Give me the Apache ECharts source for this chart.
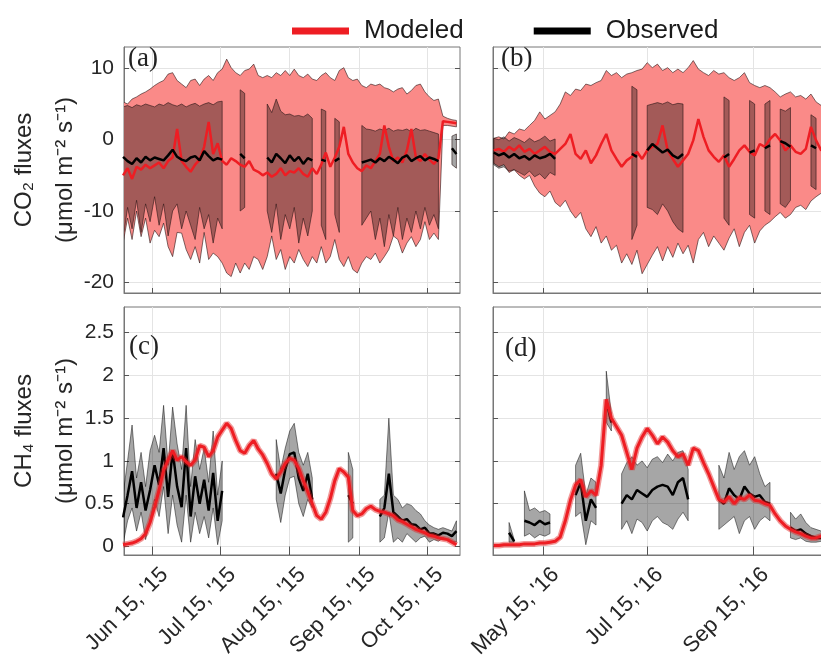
<!DOCTYPE html>
<html>
<head>
<meta charset="UTF-8">
<title>CO2 and CH4 fluxes</title>
<script src="https://cdn.jsdelivr.net/npm/echarts@6.0.0/dist/echarts.min.js"></script>
<style>
    html, body { margin: 0; padding: 0; background: #fff; }
    #main { width: 821px; height: 655px; }
</style>
</head>
<body>
<div id="main"></div>
<script>
// sampling of the series: 2015 every 2 days from Jun 2, 2016 every 3 days from Apr 16
var DAY = 86400000;
var start2015 = Date.UTC(2015, 5, 2), step2015 = 2, n2015 = 75;
var start2016 = Date.UTC(2016, 3, 16), step2016 = 3, n2016 = 66;

var ticks2015 = [Date.UTC(2015, 5, 15), Date.UTC(2015, 6, 15), Date.UTC(2015, 7, 15), Date.UTC(2015, 8, 15), Date.UTC(2015, 9, 15)];
var ticks2016 = [Date.UTC(2016, 4, 15), Date.UTC(2016, 6, 15), Date.UTC(2016, 8, 15)];
var co2Ticks = [-20, -10, 0, 10];
var ch4Ticks = [0, 0.5, 1, 1.5, 2, 2.5];

/* (a) CO2 2015 */
var a_modMax = [5.3,5.0,5.7,6.0,6.4,6.7,7.1,7.6,8.0,8.3,
    9.2,9.4,8.3,7.8,7.3,8.3,8.5,7.6,8.5,9.0,
    8.3,9.4,9.9,11.3,10.1,9.4,9.0,9.7,9.9,10.6,
    9.0,8.7,9.0,8.7,9.4,9.0,9.7,9.0,9.9,9.0,
    8.7,9.2,8.5,8.3,9.0,9.4,8.7,8.3,9.7,10.1,
    8.7,8.3,8.5,7.6,7.3,7.8,7.6,7.8,7.3,7.1,
    6.7,7.1,7.3,6.4,6.9,7.6,7.8,6.7,6.0,5.5,
    5.7,3.3,3.0,2.8,2.7];
var a_modMin = [-14.5,-11.0,-14.0,-10.0,-13.6,-11.0,-14.5,-12.7,-13.6,-11.7,
    -15.0,-16.4,-13.0,-13.1,-15.4,-16.8,-15.0,-17.3,-13.0,-16.8,
    -15.9,-16.4,-17.3,-18.7,-19.2,-17.3,-18.7,-17.3,-18.2,-16.4,
    -16.8,-18.2,-16.4,-13.5,-16.8,-15.4,-18.2,-16.4,-17.3,-15.4,
    -16.8,-17.8,-16.4,-17.3,-15.0,-17.3,-16.4,-14.0,-16.8,-17.8,
    -16.4,-18.2,-18.7,-17.3,-16.4,-16.8,-15.9,-17.3,-16.4,-15.4,
    -13.5,-14.0,-15.9,-14.5,-13.6,-15.0,-14.0,-11.5,-14.0,-13.1,
    -14.0,2.0,2.0,1.9,1.8];
var a_modMean = [-5.0,-4.0,-5.5,-3.8,-4.2,-3.5,-4.0,-3.6,-3.2,-4.0,
    -3.0,-2.5,1.5,-3.0,-3.8,-4.5,-3.5,-2.8,-1.0,2.5,
    -2.0,-0.5,-3.0,-3.5,-2.6,-3.0,-3.5,-3.8,-3.0,-4.2,
    -4.5,-5.0,-4.6,-5.2,-4.8,-4.0,-5.0,-4.4,-4.6,-4.0,
    -4.8,-5.2,-4.0,-4.8,-3.5,-1.8,-3.8,-2.5,-1.0,1.8,
    -2.0,-3.2,-4.0,-4.4,-3.6,-4.0,-3.0,-2.0,2.0,-1.0,
    -3.0,-2.5,-3.2,-1.5,1.5,-2.5,-3.0,-2.0,-2.8,-3.4,
    -2.6,2.6,2.5,2.4,2.3];
var a_obsMax = [4.6,4.8,4.5,4.9,4.7,5.0,4.8,4.6,5.0,4.8,
    5.2,4.9,4.7,5.0,4.6,4.9,5.1,4.7,5.0,5.2,
    4.9,5.3,5.4,null,null,null,7.0,6.5,null,null,
    null,null,5.0,3.8,5.7,4.0,3.5,3.6,3.3,3.4,
    3.2,3.6,3.0,null,4.3,4.0,null,3.0,2.5,null,
    null,null,null,2.0,1.5,1.4,1.2,1.5,1.3,1.6,
    1.2,1.4,1.3,1.5,1.1,1.6,1.3,1.4,1.2,1.0,
    0.8,null,null,0.5,0.8];
var a_obsMin = [-14.0,-9.5,-12.5,-8.5,-13.0,-9.0,-11.5,-8.0,-12.0,-9.0,
    -13.5,-10.0,-9.0,-12.5,-10.0,-12.0,-14.0,-9.5,-12.5,-10.5,
    -14.5,-11.0,-12.5,null,null,null,-10.0,-9.5,null,null,
    null,null,-10.0,-13.0,-9.0,-14.0,-10.5,-12.5,-9.5,-14.5,
    -11.0,-13.5,-10.0,null,-12.0,-14.0,null,-10.5,-13.0,null,
    null,null,null,-12.0,-11.0,-10.0,-14.0,-11.0,-15.0,-10.5,
    -13.5,-9.5,-14.0,-11.0,-13.0,-10.0,-12.5,-9.5,-12.0,-10.5,
    -12.5,null,null,-3.5,-4.0];
var a_obsMean = [-2.4,-3.0,-3.4,-2.6,-3.2,-2.4,-2.9,-2.5,-2.7,-2.9,
    -2.2,-1.4,-2.4,-2.8,-3.0,-2.5,-2.3,-2.9,-1.6,-2.3,
    -2.9,-2.6,-2.8,null,null,null,-2.0,-2.6,null,null,
    null,null,-2.5,-3.2,-2.0,-2.6,-3.3,-2.2,-3.0,-2.4,
    -3.4,-2.6,-2.9,null,-2.8,-3.0,null,-3.0,-2.6,null,
    null,null,null,-3.2,-3.0,-2.8,-3.2,-2.6,-3.0,-2.4,
    -2.8,-3.3,-2.5,-2.2,-3.0,-2.6,-2.3,-2.9,-2.5,-2.7,
    -3.0,null,null,-1.2,-2.0];

/* (b) CO2 2016 */
var b_modMax = [0.2,0.4,0.1,1.1,0.8,1.5,1.3,2.0,2.7,3.9,
    2.9,3.4,3.9,5.0,6.7,6.2,7.1,6.9,7.8,7.6,
    8.0,8.3,9.7,9.0,9.4,8.7,9.2,9.4,9.7,9.9,
    10.8,10.1,10.6,9.7,10.1,9.4,9.9,9.4,10.1,11.1,
    9.9,9.4,9.0,9.7,9.2,9.4,8.7,8.3,8.7,9.4,
    8.0,7.6,7.3,7.6,7.3,6.7,6.0,6.4,6.7,6.0,
    6.2,5.7,6.4,5.3,4.8,4.6];
var b_modMin = [-3.3,-3.8,-3.5,-4.6,-4.2,-5.0,-5.5,-5.0,-6.5,-7.5,
    -8.0,-7.2,-8.8,-9.4,-8.5,-10.0,-11.0,-10.2,-12.5,-13.6,
    -12.2,-14.5,-13.5,-15.5,-14.8,-17.3,-16.0,-17.5,-15.5,-18.8,
    -17.5,-16.2,-15.0,-17.0,-15.0,-16.5,-14.5,-16.0,-14.8,-17.3,
    -14.0,-13.0,-15.0,-13.5,-14.5,-15.5,-13.8,-12.5,-15.0,-13.0,
    -12.0,-14.5,-12.8,-12.0,-11.5,-10.8,-10.2,-11.0,-10.5,-9.5,
    -9.2,-9.8,-8.6,-8.0,-7.5,-7.2];
var b_modMean = [-1.5,-1.3,-1.7,-1.0,-1.5,-0.8,-1.7,-1.3,-2.0,-1.5,
    -1.0,-1.7,-2.0,-1.3,-0.6,0.8,-2.0,-2.7,-1.5,-3.3,
    -2.2,-0.6,0.8,-1.5,-2.7,-3.8,-2.9,-2.4,-1.7,-2.7,
    -1.5,-1.0,-0.6,2.0,-1.5,-2.7,-3.8,-2.9,-2.0,-0.1,
    2.9,0.4,-1.5,-2.4,-3.1,-2.2,-3.8,-2.7,-1.5,-0.8,
    -1.7,-2.2,-0.6,-1.0,0.1,0.8,-0.1,-1.5,-0.8,-1.7,
    -2.0,-1.3,1.8,-0.1,-1.5,-1.3];
var b_obsMax = [0.2,0.0,0.4,-0.2,0.3,0.0,-0.4,0.2,-0.3,0.0,
    0.5,-0.2,0.1,null,null,null,null,null,null,null,
    null,null,null,null,null,null,null,7.5,7.0,null,
    4.8,5.0,5.2,5.0,5.3,4.9,5.1,5.0,null,null,
    null,null,null,null,null,6.0,5.5,null,null,null,
    5.5,5.0,null,5.0,5.5,null,4.3,4.0,4.5,null,
    null,null,3.5,3.0,null,null];
var b_obsMin = [-3.5,-4.0,-3.8,-4.4,-4.2,-4.6,-5.0,-4.4,-5.2,-4.8,
    -5.5,-4.6,-5.0,null,null,null,null,null,null,null,
    null,null,null,null,null,null,null,-14.0,-12.0,null,
    -9.5,-9.8,-10.5,-9.0,-10.0,-11.5,-12.5,-13.0,null,null,
    null,null,null,null,null,-11.0,-12.0,null,null,null,
    -10.5,-11.0,null,-10.0,-10.5,null,-9.0,-9.5,-8.5,null,
    null,null,-6.5,-7.0,null,null];
var b_obsMean = [-1.8,-2.2,-1.9,-2.5,-2.0,-2.6,-2.3,-2.8,-2.2,-2.6,
    -2.4,-2.0,-2.7,null,null,null,null,null,null,null,
    null,null,null,null,null,null,null,-2.0,-2.4,null,
    -1.5,-0.6,-1.2,-1.8,-1.4,-2.2,-2.6,-2.0,null,null,
    null,null,null,null,null,-2.5,-2.0,null,null,null,
    -1.8,-1.5,null,-1.2,-0.8,null,-0.2,-0.5,-1.0,null,
    null,null,-0.8,-1.2,null,null];

/* (c) CH4 2015 */
var c_modMean = [0.02,0.03,0.04,0.06,0.09,0.15,0.28,0.46,0.66,0.89,
    1.01,1.12,1.01,1.05,0.99,0.95,1.01,1.18,1.16,1.05,
    1.12,1.28,1.36,1.44,1.38,1.24,1.12,1.09,1.18,1.24,
    1.14,1.07,0.97,0.85,0.79,0.87,0.97,1.03,1.01,0.91,
    0.77,0.64,0.50,0.36,0.32,0.40,0.56,0.77,0.91,0.87,
    0.81,0.42,0.36,0.38,0.44,0.47,0.43,0.41,0.40,0.38,
    0.36,0.31,0.29,0.26,0.23,0.20,0.18,0.16,0.13,0.12,
    0.10,0.09,0.08,0.05,0.02];
var c_obsMax = [0.6,1.0,1.42,0.8,1.1,0.7,1.12,1.3,1.1,1.65,
    0.95,1.63,1.2,0.9,1.65,0.7,1.25,0.9,1.15,0.75,
    1.35,0.6,1.0,null,null,null,null,null,null,null,
    null,null,null,null,1.25,0.9,1.15,1.35,1.44,1.1,
    0.95,1.1,0.8,null,null,null,null,null,null,null,
    1.1,0.9,null,null,null,null,null,0.55,0.6,1.5,
    0.6,0.55,0.45,0.5,0.48,0.42,0.38,0.3,0.25,0.22,
    0.2,0.22,0.2,0.18,0.3];
var c_obsMin = [0.03,0.3,0.45,0.18,0.4,0.08,0.3,0.55,0.35,0.7,
    0.15,0.6,0.25,0.05,0.6,0.05,0.4,0.15,0.35,0.1,
    0.45,0.02,0.3,null,null,null,null,null,null,null,
    null,null,null,null,0.55,0.28,0.6,0.8,0.82,0.5,
    0.35,0.55,0.45,null,null,null,null,null,null,null,
    0.05,0.1,null,null,null,null,null,0.05,0.1,0.4,
    0.05,0.1,0.05,0.15,0.1,0.05,0.1,0.12,0.05,0.08,
    0.06,0.1,0.08,0.06,0.05];
var c_obsMean = [0.34,0.6,0.88,0.45,0.75,0.42,0.66,0.95,0.72,1.15,
    0.58,1.12,0.7,0.46,1.15,0.35,0.82,0.5,0.78,0.42,
    0.86,0.3,0.65,null,null,null,null,null,null,null,
    null,null,null,null,0.85,0.62,0.9,1.08,1.1,0.8,
    0.65,0.85,0.55,null,null,null,null,null,null,null,
    0.6,0.5,null,null,null,null,null,0.35,0.45,0.85,
    0.4,0.35,0.3,0.32,0.26,0.25,0.2,0.22,0.15,0.15,
    0.13,0.16,0.15,0.12,0.18];

/* (d) CH4 2016 */
var d_modMean = [0.01,0.01,0.02,0.02,0.02,0.02,0.03,0.03,0.03,0.04,
    0.04,0.05,0.06,0.11,0.30,0.54,0.72,0.78,0.58,0.65,
    0.60,0.95,1.72,1.50,1.40,1.30,1.10,0.90,1.15,1.28,
    1.38,1.30,1.20,1.28,1.22,1.12,1.05,1.08,0.95,1.15,
    1.12,0.98,0.85,0.70,0.55,0.52,0.58,0.50,0.57,0.55,
    0.60,0.54,0.53,0.50,0.48,0.38,0.30,0.24,0.20,0.17,
    0.15,0.12,0.10,0.10,0.12,0.12];
var d_obsMax = [null,null,null,0.28,0.08,null,0.65,0.42,0.45,0.40,
    0.42,0.38,null,null,null,null,0.95,1.09,0.60,0.80,
    0.75,null,2.05,1.55,null,0.85,0.98,1.05,0.95,1.00,
    0.92,1.02,1.05,0.98,1.08,1.00,1.10,1.12,0.90,null,
    null,null,null,null,0.95,0.80,1.10,0.90,1.05,1.12,
    0.95,1.05,0.85,0.70,0.75,null,null,null,0.40,0.32,
    0.38,0.28,0.22,0.20,0.18,0.20];
var d_obsMin = [null,null,null,0.05,0.05,null,0.12,0.15,0.10,0.14,
    0.12,0.15,null,null,null,null,0.35,0.40,0.02,0.30,
    0.25,null,1.45,1.35,null,0.20,0.30,0.15,0.32,0.28,
    0.18,0.30,0.35,0.28,0.25,0.20,0.32,0.40,0.30,null,
    null,null,null,null,0.20,0.25,0.30,0.35,0.15,0.30,
    0.35,0.20,0.30,0.35,0.30,null,null,null,0.10,0.08,
    0.10,0.06,0.05,0.05,0.06,0.08];
var d_obsMean = [null,null,null,0.16,0.06,null,0.30,0.28,0.25,0.30,
    0.26,0.28,null,null,null,null,0.60,0.75,0.30,0.55,
    0.45,null,1.70,1.45,null,0.50,0.60,0.55,0.66,0.62,
    0.58,0.66,0.70,0.72,0.70,0.60,0.75,0.80,0.55,null,
    null,null,null,null,0.55,0.50,0.68,0.60,0.55,0.70,
    0.62,0.58,0.60,0.52,0.50,null,null,null,0.22,0.18,
    0.20,0.15,0.12,0.10,0.10,0.12];

/* helpers */
function dates(start, step, n) {
    var out = [];
    for (var i = 0; i < n; i++) out.push(start + i * step * DAY);
    return out;
}
var x2015 = dates(start2015, step2015, n2015);
var x2016 = dates(start2016, step2016, n2016);

function pts(xs, ys) {
    return ys.map(function (v, i) { return [xs[i], v]; });
}
var MONTHS = ['Jan','Feb','Mar','Apr','May','Jun','Jul','Aug','Sep','Oct','Nov','Dec'];
function dateLabel(v) {
    var d = new Date(v);
    // rich token so the rotated label can sit a bit lower/right of the tick, like matlab
    return '{t|' + MONTHS[d.getUTCMonth()] + ' ' + d.getUTCDate() + ", '" + String(d.getUTCFullYear()).slice(2) + '}';
}

var FONT = 'Liberation Sans, Arial, sans-serif';
var TXT = '#262626';
var RED = '#ee1d23';

// min/max envelope: one filled polygon per run of days that have data
function band(gi, xs, lo, hi, fill, edge) {
    var runs = [], s = -1;
    for (var i = 0; i < xs.length; i++) {
        var ok = lo[i] != null && hi[i] != null;
        if (ok && s < 0) s = i;
        if (!ok && s >= 0) { runs.push([s, i - 1]); s = -1; }
    }
    if (s >= 0) runs.push([s, xs.length - 1]);
    return {
        type: 'custom', xAxisIndex: gi, yAxisIndex: gi, silent: true, clip: true,
        data: runs.map(function (r) { return [xs[r[0]], lo[r[0]], r[0], r[1]]; }),
        encode: { x: 0, y: 1 },
        renderItem: function (params, api) {
            var a = api.value(2), b = api.value(3), p = [], k;
            for (k = a; k <= b; k++) p.push(api.coord([xs[k], hi[k]]));
            for (k = b; k >= a; k--) p.push(api.coord([xs[k], lo[k]]));
            return { type: 'polygon', shape: { points: p },
                     style: { fill: fill, stroke: edge, lineWidth: 0.8 } };
        }
    };
}
function line(name, gi, xs, ys, color, width) {
    return { name: name, type: 'line', xAxisIndex: gi, yAxisIndex: gi, symbol: 'none',
             data: pts(xs, ys), lineStyle: { color: color, width: width }, itemStyle: { color: color }, silent: true };
}

function xAxis(gi, min, max, ticks, labels) {
    return {
        type: 'value', gridIndex: gi, min: min, max: max,
        axisLine: { show: true, onZero: false, lineStyle: { color: '#777' } },
        axisTick: { show: true, inside: true, length: 5, customValues: ticks, lineStyle: { color: '#555' } },
        splitLine: { show: true, lineStyle: { color: '#e4e4e4' } },
        axisLabel: { show: labels, customValues: ticks, rotate: 45, margin: 4, formatter: dateLabel,
                     rich: { t: { fontSize: 22, fontFamily: FONT, color: TXT, padding: [35, 0, 0, 0] } } }
    };
}
function yAxis(gi, min, max, ticks, labels, name) {
    return {
        type: 'value', gridIndex: gi, min: min, max: max,
        axisLine: { show: true, onZero: false, lineStyle: { color: '#777' } },
        axisTick: { show: true, inside: true, length: 5, customValues: ticks, lineStyle: { color: '#555' } },
        splitLine: { show: true, lineStyle: { color: '#e4e4e4' } },
        axisLabel: { show: labels, customValues: ticks, margin: 10, fontSize: 21, fontFamily: FONT, color: TXT },
        name: name || '', nameLocation: 'middle', nameRotate: 90, nameGap: 38, nameMoveOverlap: false,
        nameTextStyle: { fontSize: 24, fontFamily: FONT, color: TXT, lineHeight: 41 }
    };
}
// tick marks on the top / right edges of each box
function boxX(gi, min, max, ticks) {
    return { type: 'value', gridIndex: gi, position: 'top', min: min, max: max,
             axisLine: { show: false }, splitLine: { show: false }, axisLabel: { show: false },
             axisTick: { show: true, inside: true, length: 5, customValues: ticks, lineStyle: { color: '#555' } } };
}
function boxY(gi, min, max, ticks) {
    return { type: 'value', gridIndex: gi, position: 'right', min: min, max: max,
             axisLine: { show: false }, splitLine: { show: false }, axisLabel: { show: false },
             axisTick: { show: true, inside: true, length: 5, customValues: ticks, lineStyle: { color: '#555' } } };
}

var xMin2015 = Date.UTC(2015, 5, 2, 10), xMax2015 = Date.UTC(2015, 9, 29, 14);
var xMin2016 = Date.UTC(2016, 3, 15, 14), xMax2016 = Date.UTC(2016, 9, 29, 14);

var MODFILL = '#fa8a88';
var OBSFILL = 'rgba(0,0,0,0.35)';
var EDGE = 'rgba(40,20,20,0.75)';
var GEDGE = 'rgba(0,0,0,0.6)';

var series = [
    band(0, x2015, a_modMin, a_modMax, MODFILL, EDGE),
    band(0, x2015, a_obsMin, a_obsMax, OBSFILL, EDGE),
    line('Modeled', 0, x2015, a_modMean, RED, 2.5),
    line('Observed', 0, x2015, a_obsMean, '#000', 2.5),

    band(1, x2016, b_modMin, b_modMax, MODFILL, EDGE),
    band(1, x2016, b_obsMin, b_obsMax, OBSFILL, EDGE),
    line('Modeled', 1, x2016, b_modMean, RED, 2.5),
    line('Observed', 1, x2016, b_obsMean, '#000', 2.5),

    band(2, x2015, c_obsMin, c_obsMax, OBSFILL, GEDGE),
    line('Observed', 2, x2015, c_obsMean, '#000', 2.5),
    line('Modeled range', 2, x2015, c_modMean, 'rgba(225,30,30,0.45)', 6),
    line('Modeled', 2, x2015, c_modMean, RED, 3),

    band(3, x2016, d_obsMin, d_obsMax, OBSFILL, GEDGE),
    line('Observed', 3, x2016, d_obsMean, '#000', 2.5),
    line('Modeled range', 3, x2016, d_modMean, 'rgba(225,30,30,0.45)', 6),
    line('Modeled', 3, x2016, d_modMean, RED, 3)
];

var gridStyle = { show: true, borderColor: '#777', borderWidth: 1, backgroundColor: 'transparent', outerBoundsMode: 'none' };
var LETTER = '27px "Liberation Serif", "DejaVu Serif", serif';
var option = {
    animation: false,
    backgroundColor: '#fff',
    legend: {
        data: ['Modeled', 'Observed'], selectedMode: false,
        top: 13, left: 287, icon: 'rect', itemWidth: 57, itemHeight: 7, itemGap: 70,
        textStyle: { fontSize: 26, fontFamily: FONT, color: '#1a1a1a', padding: [0, 0, 0, 10] }
    },
    grid: [
        Object.assign({ left: 124, top: 47, width: 336, height: 246 }, gridStyle),
        Object.assign({ left: 493, top: 47, width: 336, height: 246 }, gridStyle),
        Object.assign({ left: 124, top: 307, width: 336, height: 248 }, gridStyle),
        Object.assign({ left: 493, top: 307, width: 336, height: 248 }, gridStyle)
    ],
    xAxis: [
        xAxis(0, xMin2015, xMax2015, ticks2015, false),
        xAxis(1, xMin2016, xMax2016, ticks2016, false),
        xAxis(2, xMin2015, xMax2015, ticks2015, true),
        xAxis(3, xMin2016, xMax2016, ticks2016, true),
        boxX(0, xMin2015, xMax2015, ticks2015),
        boxX(1, xMin2016, xMax2016, ticks2016),
        boxX(2, xMin2015, xMax2015, ticks2015),
        boxX(3, xMin2016, xMax2016, ticks2016)
    ],
    yAxis: [
        yAxis(0, -21.5, 13, co2Ticks, true, 'CO\u2082 fluxes\n(\u03bcmol m\u207b\u00b2 s\u207b\u00b9)'),
        yAxis(1, -21.5, 13, co2Ticks, false),
        yAxis(2, -0.1, 2.8, ch4Ticks, true, 'CH\u2084 fluxes\n(\u03bcmol m\u207b\u00b2 s\u207b\u00b9)'),
        yAxis(3, -0.1, 2.8, ch4Ticks, false),
        boxY(0, -21.5, 13, co2Ticks),
        boxY(1, -21.5, 13, co2Ticks),
        boxY(2, -0.1, 2.8, ch4Ticks),
        boxY(3, -0.1, 2.8, ch4Ticks)
    ],
    graphic: [
        { type: 'text', left: 128, top: 45, z: 100, style: { text: '(a)', font: LETTER, fill: '#222' } },
        { type: 'text', left: 501, top: 45, z: 100, style: { text: '(b)', font: LETTER, fill: '#222' } },
        { type: 'text', left: 129, top: 333, z: 100, style: { text: '(c)', font: LETTER, fill: '#222' } },
        { type: 'text', left: 505, top: 335, z: 100, style: { text: '(d)', font: LETTER, fill: '#222' } }
    ],
    series: series
};

var chart = echarts.init(document.getElementById('main'));
chart.setOption(option);
window.addEventListener('resize', function () { chart.resize(); });
</script>
</body>
</html>
